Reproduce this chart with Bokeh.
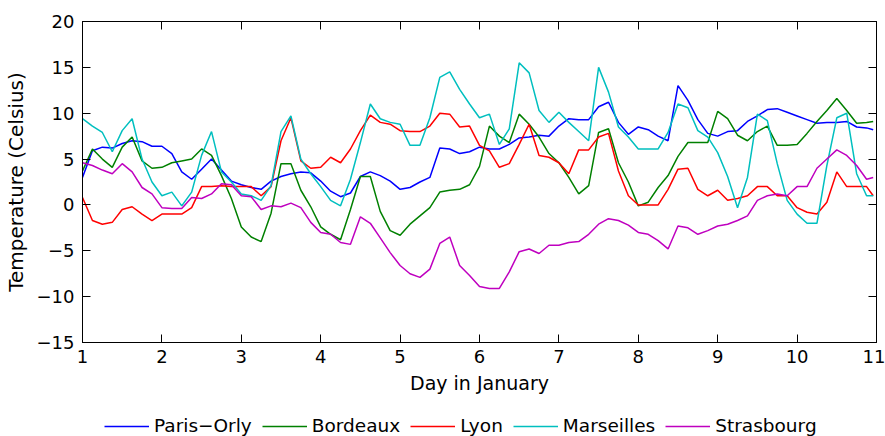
from bokeh.plotting import figure
from bokeh.layouts import column
from bokeh.models import Legend, LegendItem, LinearAxis, FixedTicker, Range1d
from bokeh.embed import file_html
from bokeh.resources import INLINE

# Observation times, in hours after 1 January 00:00 (3-hourly, last reading at 23:00 on the 10th)
hours = list(range(0, 240, 3)) + [239]
days = [1 + h / 24 for h in hours]

# Temperatures in degrees Celsius
paris_orly = [3.0, 5.9, 6.3, 6.2, 6.7, 7.0, 6.9, 6.4, 6.4, 5.6,
              3.6, 2.8, 3.9, 5.0, 3.8, 2.6, 2.2, 1.9, 1.7, 2.6,
              3.1, 3.4, 3.6, 3.5, 2.6, 1.5, 0.9, 1.3, 3.1, 3.6,
              3.2, 2.6, 1.7, 1.9, 2.5, 3.0, 6.2, 6.1, 5.6, 5.8,
              6.3, 6.1, 6.1, 6.6, 7.3, 7.4, 7.6, 7.5, 8.6, 9.4,
              9.3, 9.3, 10.7, 11.2, 9.0, 7.7, 8.5, 8.2, 7.5, 7.0,
              13.0, 11.4, 9.3, 7.8, 7.5, 8.0, 8.1, 9.1, 9.7, 10.4,
              10.5, 10.1, 9.7, 9.3, 8.9, 9.0, 9.0, 9.1, 8.5, 8.4, 8.2]

bordeaux = [3.7, 6.1, 5.0, 4.1, 6.3, 7.4, 4.8, 4.0, 4.1, 4.6,
            4.8, 5.0, 6.1, 5.4, 3.2, 0.7, -2.4, -3.5, -4.0, -0.9,
            4.5, 4.5, 1.6, -0.2, -2.4, -3.2, -3.8, -0.5, 3.1, 3.1,
            -0.7, -2.8, -3.3, -2.1, -1.2, -0.3, 1.4, 1.6, 1.7, 2.2,
            4.2, 8.6, 7.5, 6.8, 9.9, 8.8, 7.4, 5.6, 4.6, 3.0,
            1.2, 2.1, 7.9, 8.3, 4.6, 2.5, -0.1, 0.3, 1.9, 3.2,
            5.3, 6.8, 6.8, 6.8, 10.2, 9.4, 7.6, 7.0, 8.0, 8.6,
            6.5, 6.5, 6.6, 7.8, 9.1, 10.3, 11.6, 10.3, 8.9, 9.0, 9.1]

lyon = [0.8, -1.7, -2.1, -1.9, -0.5, -0.2, -1.0, -1.7, -1.0, -1.0,
        -1.0, -0.3, 2.0, 2.0, 2.1, 2.0, 2.0, 2.0, 1.0, 2.0,
        7.0, 9.5, 4.8, 4.0, 4.1, 5.2, 4.6, 6.1, 8.1, 9.8,
        9.0, 8.8, 8.1, 8.0, 8.0, 8.6, 10.0, 9.9, 8.5, 8.6,
        6.5, 5.9, 4.1, 4.5, 6.6, 8.8, 5.4, 5.2, 4.6, 3.4,
        6.0, 6.0, 7.4, 7.8, 3.7, 1.0, 0.0, 0.0, 0.0, 1.7,
        3.9, 4.0, 1.7, 1.0, 1.6, 0.5, 0.7, 1.0, 2.0, 2.0,
        1.0, 1.0, -0.3, -0.8, -1.0, 0.3, 3.6, 2.0, 2.0, 2.0, 1.0]

marseilles = [9.4, 8.6, 7.9, 5.8, 8.1, 9.4, 5.0, 2.5, 1.0, 1.4,
              -0.1, 1.4, 5.4, 8.0, 3.6, 2.5, 1.2, 1.0, 0.5, 2.1,
              8.0, 9.7, 5.0, 3.4, 2.0, 0.5, -0.1, 2.8, 6.8, 11.0,
              9.4, 9.0, 8.8, 6.5, 6.5, 9.5, 13.9, 14.5, 12.6, 11.0,
              9.5, 9.9, 6.6, 8.3, 15.5, 14.4, 10.3, 9.0, 10.1, 9.0,
              8.0, 7.0, 15.0, 12.3, 8.5, 7.4, 6.1, 6.1, 6.1, 7.9,
              11.0, 10.6, 8.1, 7.4, 5.7, 3.1, -0.3, 3.0, 9.9, 9.2,
              4.5, 0.5, -1.0, -2.0, -2.0, 4.3, 9.5, 10.0, 3.4, 1.0, 1.0]

strasbourg = [4.6, 4.3, 3.8, 3.4, 4.5, 3.6, 1.9, 1.2, -0.3, -0.4,
              -0.4, 0.8, 0.7, 1.2, 2.3, 2.2, 1.0, 0.9, -0.5, -0.1,
              -0.2, 0.2, -0.3, -1.9, -3.0, -3.2, -4.1, -4.3, -1.3, -2.0,
              -3.6, -5.2, -6.6, -7.5, -7.9, -7.0, -4.2, -3.5, -6.6, -7.7,
              -8.9, -9.1, -9.1, -7.3, -5.1, -4.8, -5.3, -4.4, -4.4, -4.1,
              -4.0, -3.2, -2.1, -1.5, -1.7, -2.2, -3.0, -3.2, -3.9, -4.8,
              -2.3, -2.5, -3.2, -2.8, -2.3, -2.1, -1.7, -1.2, 0.5, 1.0,
              1.2, 1.0, 2.0, 2.0, 4.0, 5.0, 6.0, 5.4, 4.3, 2.8, 3.0]

stations = ["Paris\u2212Orly", "Bordeaux", "Lyon", "Marseilles", "Strasbourg"]
series = [paris_orly, bordeaux, lyon, marseilles, strasbourg]
colors = ["#0000ff", "#008000", "#ff0000", "#00bfbf", "#bf00bf"]

x_ticks = list(range(1, 12))
y_ticks = list(range(-15, 21, 5))
y_tick_labels = {t: (f"\u2212{abs(t)}" if t < 0 else str(t)) for t in y_ticks}

FONT = "DejaVu Sans"

# ---- main axes ----
p = figure(width=885, height=406,
           x_range=Range1d(1, 11), y_range=Range1d(-15, 20),
           output_backend="svg", toolbar_location=None,
           min_border_left=78, min_border_right=9,
           min_border_top=21, min_border_bottom=64,
           x_axis_label="Day in January",
           y_axis_label="Temperature (Celsius)")

p.grid.visible = False
p.outline_line_color = "black"
p.outline_line_width = 1
p.background_fill_color = "white"
p.border_fill_color = "white"

p.xaxis.ticker = FixedTicker(ticks=x_ticks)
p.yaxis.ticker = FixedTicker(ticks=y_ticks)
p.yaxis.major_label_overrides = y_tick_labels

for ax in [p.xaxis[0], p.yaxis[0]]:
    ax.major_tick_in = 8
    ax.major_tick_out = 0
    ax.minor_tick_line_color = None
    ax.axis_line_color = "black"
    ax.major_tick_line_color = "black"
    ax.major_label_text_font = FONT
    ax.major_label_text_font_size = "18px"
    ax.major_label_text_color = "black"
    ax.axis_label_text_font = FONT
    ax.axis_label_text_font_style = "normal"
    ax.axis_label_text_color = "black"

p.xaxis.axis_label_text_font_size = "19px"
p.yaxis.axis_label_text_font_size = "20px"
p.xaxis.major_label_standoff = 7
p.xaxis.axis_label_standoff = 6
p.yaxis.major_label_standoff = 8
p.yaxis.axis_label_standoff = 6

# tick marks on the top and right edges of the box
top = LinearAxis(ticker=FixedTicker(ticks=x_ticks))
right = LinearAxis(ticker=FixedTicker(ticks=y_ticks))
for ax in (top, right):
    ax.major_tick_in = 8
    ax.major_tick_out = 0
    ax.minor_tick_line_color = None
    ax.major_label_text_font_size = "0px"
    ax.major_label_text_color = None
    ax.major_label_standoff = 0
    ax.axis_line_color = "black"
p.add_layout(top, "above")
p.add_layout(right, "right")

for vals, col in zip(series, colors):
    p.line(days, vals, line_color=col, line_width=1.5)

# ---- legend strip underneath (its view window lies left of the data, so only the keys show) ----
leg = figure(width=885, height=30, x_range=Range1d(-1, 0), y_range=Range1d(0, 1),
             output_backend="svg", toolbar_location=None,
             x_axis_location=None, y_axis_location=None,
             min_border=0, outline_line_color=None)
leg.grid.visible = False

items = []
for name, vals, col in zip(stations, series, colors):
    r = leg.line(days, vals, line_color=col, line_width=1.5)
    items.append(LegendItem(label=name, renderers=[r]))

legend = Legend(items=items, orientation="horizontal",
                location=(22, 0),
                border_line_color=None, background_fill_alpha=0,
                glyph_width=45, glyph_height=20, label_standoff=5,
                spacing=10, padding=0, margin=0,
                label_text_font=FONT, label_text_font_size="18.5px",
                label_text_color="black")
leg.add_layout(legend, "center")

layout = column(p, leg, spacing=0)
open("out.html", "w").write(file_html(layout, INLINE))
